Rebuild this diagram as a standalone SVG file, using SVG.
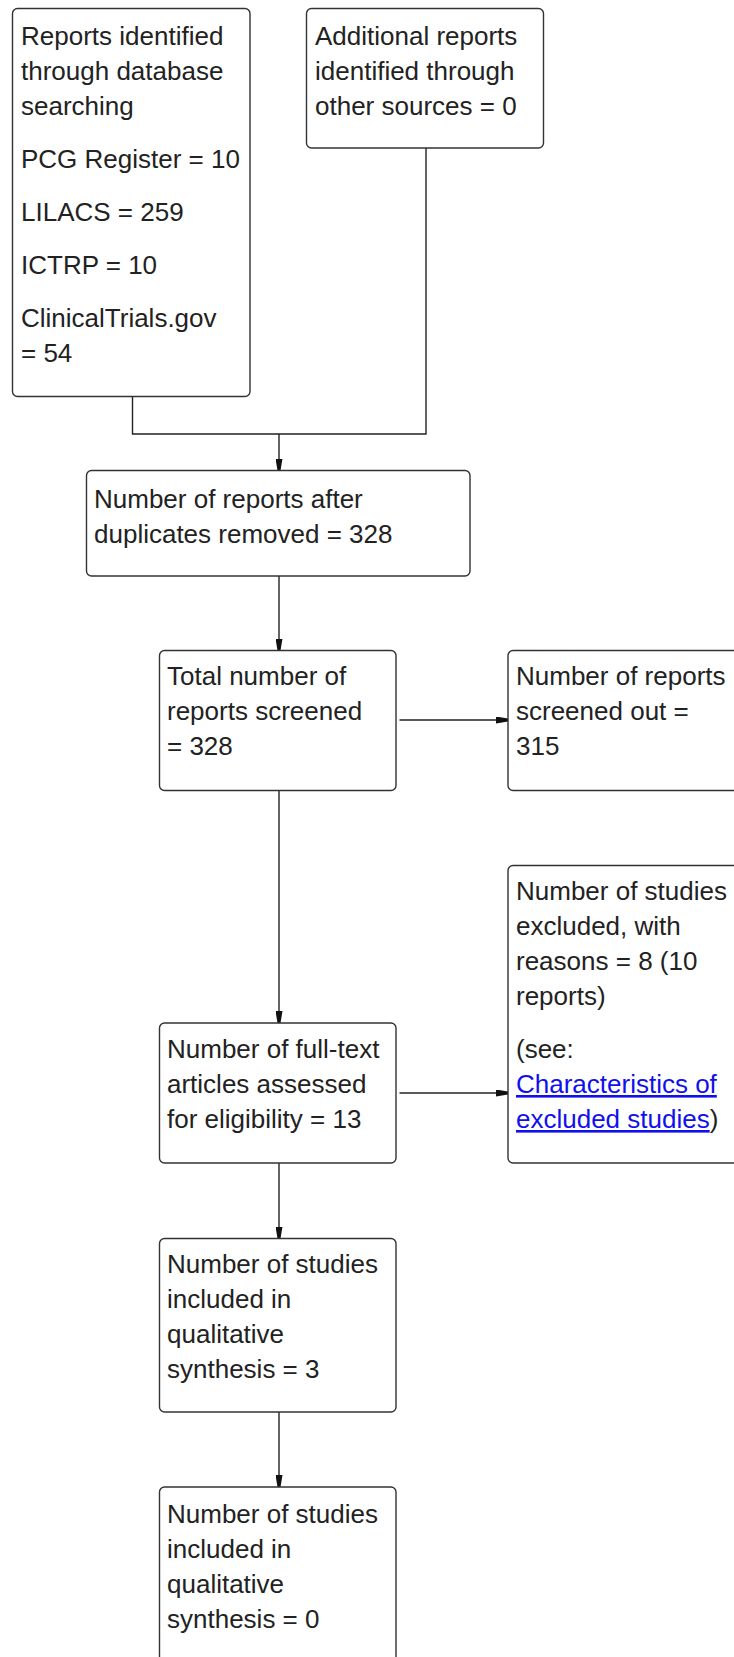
<svg xmlns="http://www.w3.org/2000/svg" width="734" height="1657" viewBox="0 0 734 1657">
<style>
.box{fill:#ffffff;stroke:#333333;stroke-width:1.4}
.t{font-family:"Liberation Sans",Arial,sans-serif;font-size:26px;fill:#222222}
.link{fill:#1010ee;text-decoration:underline}
.c{fill:none;stroke:#222222;stroke-width:1.4}
</style>
<defs>
<marker id="ah" markerUnits="userSpaceOnUse" markerWidth="12" markerHeight="7" refX="12" refY="3.5" orient="auto">
<path d="M0,0 L12,2 L12,5 L0,7 z" fill="#111111"/>
</marker>
</defs>
<rect width="734" height="1657" fill="#ffffff"/>
<g id="connectors">
<path class="c" d="M132.5,396.5 V434 H426 V148"/>
<path class="c" d="M279,434 V470.5" marker-end="url(#ah)"/>
<path class="c" d="M279,576 V650.5" marker-end="url(#ah)"/>
<path class="c" d="M399.5,720 H508" marker-end="url(#ah)"/>
<path class="c" d="M279,790.5 V1023" marker-end="url(#ah)"/>
<path class="c" d="M399.5,1093 H508" marker-end="url(#ah)"/>
<path class="c" d="M279,1163 V1238.5" marker-end="url(#ah)"/>
<path class="c" d="M279,1412 V1487" marker-end="url(#ah)"/>
</g>
<g id="n_database">
<rect class="box" x="12.5" y="8.5" width="237.5" height="388" rx="5"/>
<text class="t" x="21" y="45">Reports identified</text>
<text class="t" x="21" y="80">through database</text>
<text class="t" x="21" y="115">searching</text>
<text class="t" x="21" y="168">PCG Register = 10</text>
<text class="t" x="21" y="221">LILACS = 259</text>
<text class="t" x="21" y="274">ICTRP = 10</text>
<text class="t" x="21" y="327">ClinicalTrials.gov</text>
<text class="t" x="21" y="362">= 54</text>
</g>
<g id="n_other">
<rect class="box" x="306.5" y="8.5" width="237" height="139.5" rx="5"/>
<text class="t" x="315" y="45">Additional reports</text>
<text class="t" x="315" y="80">identified through</text>
<text class="t" x="315" y="115">other sources = 0</text>
</g>
<g id="n_dedup">
<rect class="box" x="86.5" y="470.5" width="383.5" height="105.5" rx="5"/>
<text class="t" x="94" y="508">Number of reports after</text>
<text class="t" x="94" y="543">duplicates removed = 328</text>
</g>
<g id="n_screened">
<rect class="box" x="159.5" y="650.5" width="236.5" height="140" rx="5"/>
<text class="t" x="167" y="685">Total number of</text>
<text class="t" x="167" y="720">reports screened</text>
<text class="t" x="167" y="755">= 328</text>
</g>
<g id="n_screened_out">
<rect class="box" x="508" y="650.5" width="240" height="140" rx="5"/>
<text class="t" x="516" y="685">Number of reports</text>
<text class="t" x="516" y="720">screened out =</text>
<text class="t" x="516" y="755">315</text>
</g>
<g id="n_fulltext">
<rect class="box" x="159.5" y="1023" width="236.5" height="140" rx="5"/>
<text class="t" x="167" y="1058">Number of full-text</text>
<text class="t" x="167" y="1093">articles assessed</text>
<text class="t" x="167" y="1128">for eligibility = 13</text>
</g>
<g id="n_excluded">
<rect class="box" x="508" y="865.5" width="240" height="297.5" rx="5"/>
<text class="t" x="516" y="900">Number of studies</text>
<text class="t" x="516" y="935">excluded, with</text>
<text class="t" x="516" y="970">reasons = 8 (10</text>
<text class="t" x="516" y="1005">reports)</text>
<text class="t" x="516" y="1058">(see:</text>
<text class="t" x="516" y="1093"><tspan class="link">Characteristics of</tspan></text>
<text class="t" x="516" y="1128"><tspan class="link">excluded studies</tspan>)</text>
</g>
<g id="n_qual3">
<rect class="box" x="159.5" y="1238.5" width="236.5" height="173.5" rx="5"/>
<text class="t" x="167" y="1273">Number of studies</text>
<text class="t" x="167" y="1308">included in</text>
<text class="t" x="167" y="1343">qualitative</text>
<text class="t" x="167" y="1378">synthesis = 3</text>
</g>
<g id="n_qual0">
<rect class="box" x="159.5" y="1487" width="236.5" height="200" rx="5"/>
<text class="t" x="167" y="1523">Number of studies</text>
<text class="t" x="167" y="1558">included in</text>
<text class="t" x="167" y="1593">qualitative</text>
<text class="t" x="167" y="1628">synthesis = 0</text>
</g>
</svg>
